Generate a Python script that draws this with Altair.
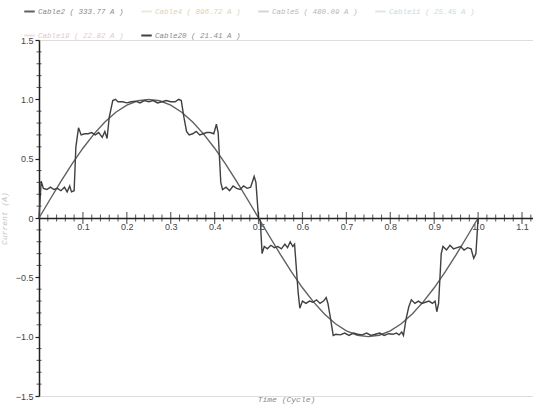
import altair as alt
import pandas as pd

# ---------------- data ----------------
cable2_t = [0.0, 0.025, 0.05, 0.075, 0.1, 0.125, 0.15, 0.175, 0.2, 0.225,
            0.25, 0.275, 0.3, 0.325, 0.35, 0.375, 0.4, 0.425, 0.45, 0.475,
            0.5, 0.525, 0.55, 0.575, 0.6, 0.625, 0.65, 0.675, 0.7, 0.725,
            0.75, 0.775, 0.8, 0.825, 0.85, 0.875, 0.9, 0.925, 0.95, 0.975, 1.0]
cable2_i = [0.0, 0.156, 0.309, 0.454, 0.588, 0.707, 0.809, 0.891, 0.951, 0.988,
            1.0, 0.988, 0.951, 0.891, 0.809, 0.707, 0.588, 0.454, 0.309, 0.156,
            0.0, -0.156, -0.309, -0.454, -0.588, -0.707, -0.809, -0.891, -0.951, -0.988,
            -1.0, -0.988, -0.951, -0.891, -0.809, -0.707, -0.588, -0.454, -0.309, -0.156, 0.0]

cable20_t = [0.000, 0.005, 0.010, 0.018, 0.026, 0.034, 0.042, 0.050, 0.058, 0.064,
             0.070, 0.074, 0.080, 0.084, 0.090, 0.096, 0.104, 0.112, 0.120, 0.128,
             0.136, 0.144, 0.150, 0.155, 0.160, 0.168, 0.174, 0.180, 0.190, 0.200,
             0.210, 0.220, 0.230, 0.240, 0.250, 0.260, 0.270, 0.280, 0.290, 0.300,
             0.310, 0.318, 0.324, 0.330, 0.336, 0.342, 0.350, 0.358, 0.366, 0.374,
             0.382, 0.390, 0.398, 0.404, 0.408, 0.414, 0.418, 0.426, 0.434, 0.442,
             0.450, 0.458, 0.466, 0.474, 0.482, 0.490, 0.494, 0.500,
             0.504, 0.508, 0.513, 0.520, 0.528, 0.536, 0.544, 0.552, 0.560, 0.566,
             0.572, 0.578, 0.582, 0.590, 0.594, 0.600, 0.608, 0.616, 0.624, 0.632,
             0.640, 0.648, 0.654, 0.658, 0.664, 0.670, 0.676, 0.686, 0.696, 0.706,
             0.716, 0.726, 0.736, 0.746, 0.756, 0.766, 0.776, 0.786, 0.796, 0.806,
             0.814, 0.820, 0.826, 0.830, 0.836, 0.842, 0.848, 0.856, 0.864, 0.872,
             0.880, 0.888, 0.896, 0.902, 0.906, 0.910, 0.916, 0.920, 0.928, 0.936,
             0.944, 0.952, 0.960, 0.968, 0.976, 0.984, 0.990, 0.995, 1.000]
cable20_i = [0.00, 0.31, 0.25, 0.24, 0.26, 0.24, 0.25, 0.23, 0.26, 0.22,
             0.27, 0.22, 0.23, 0.60, 0.76, 0.70, 0.71, 0.71, 0.72, 0.70,
             0.72, 0.68, 0.73, 0.67, 0.85, 0.99, 1.00, 0.98, 0.98, 0.97,
             0.98, 0.985, 0.97, 0.99, 0.98, 0.99, 0.97, 0.98, 0.99, 0.98,
             0.98, 1.00, 0.99, 0.85, 0.73, 0.70, 0.71, 0.73, 0.70, 0.71,
             0.72, 0.72, 0.71, 0.79, 0.72, 0.30, 0.24, 0.26, 0.23, 0.27,
             0.25, 0.24, 0.27, 0.25, 0.26, 0.35, 0.30, 0.00,
             -0.02, -0.30, -0.24, -0.26, -0.23, -0.25, -0.24, -0.26, -0.22, -0.25,
             -0.20, -0.24, -0.22, -0.62, -0.76, -0.70, -0.72, -0.70, -0.71, -0.69,
             -0.72, -0.70, -0.67, -0.72, -0.85, -0.99, -0.98, -0.985, -0.97, -0.99,
             -0.97, -0.98, -0.985, -0.97, -0.99, -0.98, -0.97, -0.99, -0.975, -0.98,
             -0.97, -0.985, -0.96, -0.99, -0.85, -0.75, -0.69, -0.72, -0.70, -0.72,
             -0.71, -0.70, -0.72, -0.70, -0.79, -0.72, -0.30, -0.24, -0.27, -0.23,
             -0.26, -0.25, -0.24, -0.27, -0.25, -0.26, -0.34, -0.30, 0.00]

legend_names = ["Cable2 ( 333.77 A )", "Cable4 ( 896.72 A )", "Cable5 ( 480.09 A )",
                "Cable11 ( 25.45 A )", "Cable19 ( 22.82 A )", "Cable20 ( 21.41 A )"]
line_colors = ["#606060", "#ede9d2", "#d4d4d4", "#dde7ea", "#eedfe2", "#404040"]
label_colors = ["#8a8a8a", "#d8d3b8", "#b8b8b8", "#cbd9de", "#dec9cd", "#8a8a8a"]

x_major = [0.1, 0.2, 0.3, 0.4, 0.5, 0.6, 0.7, 0.8, 0.9, 1.0, 1.1]
x_minor = [round(i * 0.02, 2) for i in range(1, 57) if i % 5]
y_labels = [-1.5, -1.0, -0.5, 0.0, 0.5, 1.0, 1.5]
y_minor = [round(-1.5 + i * 0.1, 1) for i in range(31) if i % 5]

W, H = 494, 356
AXC = "#222222"

# ---------------- build ----------------
df = pd.concat([
    pd.DataFrame({"t": cable2_t, "i": cable2_i, "cable": legend_names[0]}),
    pd.DataFrame({"t": cable20_t, "i": cable20_i, "cable": legend_names[5]}),
])

lab_expr = ""
for n, c in zip(legend_names, label_colors):
    lab_expr += f"datum.label == '{n}' ? '{c}' : "
lab_expr += "'#888888'"

xscale = alt.Scale(domain=[0, 1.125], nice=False, zero=False)
yscale = alt.Scale(domain=[-1.5, 1.5], nice=False)

xaxis = alt.Axis(values=x_major, format=".1f", offset=-H / 2, tickSize=0,
                 domainColor=AXC, domainWidth=1.5, grid=False,
                 labelFont="Liberation Sans", labelFontSize=9, labelColor="#444444",
                 labelPadding=4, labelFlush=False,
                 title="Time (Cycle)", titleFont="Liberation Mono", titleFontStyle="italic",
                 titleFontWeight="normal", titleFontSize=8, titleColor="#8a8a8a",
                 titleY=181, titleBaseline="middle")
yaxis = alt.Axis(values=y_labels, labelExpr="datum.value == 0 ? '0' : format(datum.value, '.1f')",
                 tickSize=4, tickColor=AXC, tickWidth=1.2, domainColor=AXC, domainWidth=1.5,
                 grid=False, labelFont="Liberation Sans", labelFontSize=9, labelColor="#444444",
                 labelPadding=2, labelFlush=False,
                 title="Current (A)", titleFont="Liberation Mono", titleFontStyle="italic",
                 titleFontWeight="normal", titleFontSize=8, titleColor="#c4c4c4",
                 titleX=-31)

lines = alt.Chart(df).mark_line(strokeWidth=1.4).encode(
    x=alt.X("t:Q", scale=xscale, axis=xaxis),
    y=alt.Y("i:Q", scale=yscale, axis=yaxis),
    color=alt.Color("cable:N",
                    scale=alt.Scale(domain=legend_names, range=line_colors),
                    legend=alt.Legend(orient="none", legendX=-16, legendY=-35, direction="horizontal",
                                      columns=4, gridAlign="none", title=None, symbolType="stroke",
                                      symbolStrokeWidth=2, symbolSize=110, labelFont="Liberation Mono",
                                      labelFontStyle="italic", labelFontSize=7.5, labelLimit=300,
                                      labelColor={"expr": lab_expr}, columnPadding=13, rowPadding=13,
                                      labelOffset=2)),
)

xmaj = alt.Chart(pd.DataFrame({"t": x_major, "i": [0.0] * len(x_major)})).mark_tick(
    orient="vertical", size=12, thickness=1.2, color=AXC).encode(
    x=alt.X("t:Q", scale=xscale, axis=xaxis), y=alt.Y("i:Q", scale=yscale, axis=yaxis))
xmin = alt.Chart(pd.DataFrame({"t": x_minor, "i": [0.0] * len(x_minor)})).mark_tick(
    orient="vertical", size=7, thickness=1.1, color=AXC).encode(
    x=alt.X("t:Q", scale=xscale, axis=xaxis), y=alt.Y("i:Q", scale=yscale, axis=yaxis))
ymin = alt.Chart(pd.DataFrame({"i": y_minor, "t": [0.0] * len(y_minor)})).mark_tick(
    orient="horizontal", size=5, thickness=1.1, color=AXC).encode(
    x=alt.X("t:Q", scale=xscale, axis=xaxis), y=alt.Y("i:Q", scale=yscale, axis=yaxis))

chart = alt.layer(lines, xmaj, xmin, ymin).properties(
    width=W, height=H,
    autosize=alt.AutoSizeParams(type="none"),
    padding={"left": 39, "top": 40, "right": 0, "bottom": 12},
).configure_view(stroke=None).configure(background="white")

chart.save("out.html", embed_options={"renderer": "svg", "actions": False})
